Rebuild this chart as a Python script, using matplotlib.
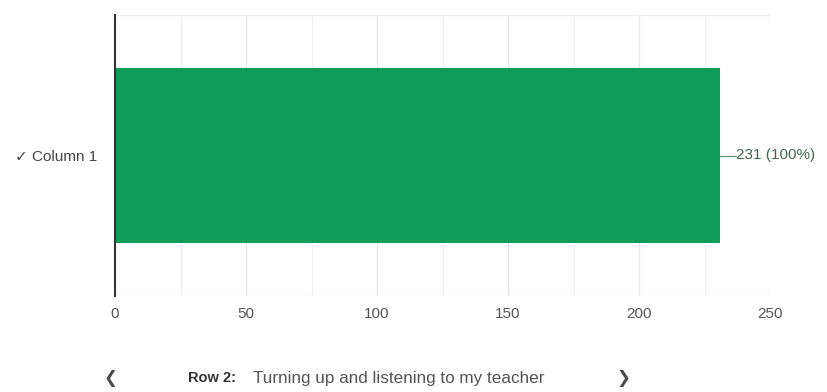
import matplotlib.pyplot as plt
import numpy as np

plt.rcParams['font.family'] = ['Liberation Sans', 'DejaVu Sans']

categories = ['\u2713 Column 1']
counts = [231]
total = 231
x_ticks = [0, 50, 100, 150, 200, 250]
row_title = 'Row 2:'
row_text = 'Turning up and listening to my teacher'

bar_color = '#0f9d58'
text_color = '#444444'

fig = plt.figure(figsize=(8.27, 3.92), dpi=100)
ax = fig.add_axes([115 / 827, 96 / 392, 655 / 827, 281 / 392])

y = np.arange(len(categories))
ax.barh(y, counts, height=0.623, color=bar_color, zorder=3)

# value label with a short leader line
for yi, c in zip(y, counts):
    ax.plot([c, c + 6], [yi, yi], color='#5a8f6a', lw=0.8, zorder=3)
    ax.text(c + 6.2, yi, '%d (%d%%)' % (c, round(c / total * 100)),
            va='center', ha='left', fontsize=11, color='#3d6b4d')

ax.set_xlim(0, 250)
ax.set_ylim(-0.5, 0.5)
ax.set_xticks(x_ticks)
ax.set_xticks(np.arange(25, 250, 50), minor=True)
ax.set_yticks(y)
ax.set_yticklabels(categories, fontsize=11, color=text_color)
ax.tick_params(axis='x', length=0, pad=8, labelsize=11, labelcolor='#555555')
ax.tick_params(axis='x', which='minor', length=0)
ax.tick_params(axis='y', length=0, pad=13)

ax.grid(axis='x', which='major', color='#e6e6e6', lw=0.9, zorder=0)
ax.grid(axis='x', which='minor', color='#f0f0f0', lw=0.9, zorder=0)
ax.axhline(-0.5, color='#e6e6e6', lw=0.9, zorder=1)
ax.axhline(0.5, color='#eeeeee', lw=0.9, zorder=1)

for s in ['top', 'right', 'bottom']:
    ax.spines[s].set_visible(False)
ax.spines['left'].set_color('#333333')
ax.spines['left'].set_linewidth(1.5)
ax.spines['left'].set_zorder(4)

# navigation row below the chart
yy = 1 - 378 / 392
fig.text(111 / 827, yy, '\u276e', fontsize=12, color='#4a4a4a', va='center',
         ha='center', family='DejaVu Sans')
fig.text(623 / 827, yy, '\u276f', fontsize=12, color='#4a4a4a', va='center',
         ha='center', family='DejaVu Sans')
fig.text(188 / 827, yy, row_title, fontsize=10.5, fontweight='bold',
         color='#333333', va='center', ha='left')
fig.text(253 / 827, yy, row_text, fontsize=12.3, color='#555555',
         va='center', ha='left')

fig.savefig('out.png', dpi=100)
